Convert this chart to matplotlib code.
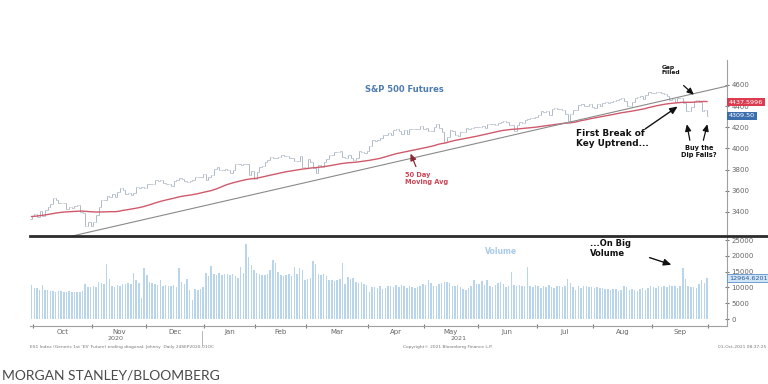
import numpy as np
import pandas as pd
import matplotlib
matplotlib.use("Agg")
import matplotlib.pyplot as plt
from matplotlib.lines import Line2D
import matplotlib.transforms as mtransforms

# ---------------- data ----------------
# closes before the visible window (used for the 50-day moving average)
prior_closes = [3215, 3225, 3251, 3257, 3276, 3236, 3216, 3239, 3218, 3258, 3246, 3271,
                3295, 3306, 3328, 3349, 3351, 3360, 3333, 3380, 3373, 3373, 3382, 3389,
                3375, 3385, 3397, 3431, 3444, 3479, 3485, 3508, 3500,
                3527, 3581, 3455, 3427, 3332, 3399, 3339, 3341, 3384, 3401, 3385, 3357,
                3319, 3281, 3315, 3237, 3247, 3298, 3351, 3335]

# visible closes: 30-Sep-2020 .. 30-Sep-2021 (trading days)
closes = ([3363]
          + [3380, 3348, 3408, 3361, 3419, 3446, 3477, 3534, 3511, 3489, 3483, 3483, 3427, 3443,
             3436, 3453, 3465, 3401, 3391, 3271, 3310, 3270]
          + [3310, 3370, 3443, 3510, 3509, 3550, 3545, 3572, 3537, 3585, 3627, 3610, 3568, 3582,
             3558, 3578, 3635, 3629, 3638, 3622]
          + [3662, 3669, 3667, 3699, 3692, 3702, 3673, 3668, 3663, 3647, 3695, 3702, 3722, 3709,
             3695, 3687, 3690, 3703, 3735, 3727, 3732, 3756]
          + [3701, 3726, 3748, 3804, 3825, 3799, 3801, 3810, 3795, 3768, 3798, 3851, 3853, 3841,
             3855, 3849, 3751, 3788, 3714]
          + [3774, 3826, 3830, 3872, 3887, 3915, 3911, 3910, 3916, 3934, 3933, 3931, 3913, 3906,
             3877, 3881, 3925, 3829, 3811]
          + [3901, 3870, 3820, 3768, 3842, 3821, 3875, 3899, 3939, 3943, 3969, 3962, 3974, 3915,
             3913, 3940, 3910, 3889, 3910, 3975, 3971, 3959, 3973]
          + [4020, 4078, 4074, 4080, 4097, 4129, 4128, 4142, 4125, 4171, 4185, 4163, 4135, 4173,
             4135, 4180, 4187, 4187, 4184, 4211, 4181]
          + [4192, 4165, 4168, 4202, 4233, 4189, 4153, 4063, 4113, 4174, 4163, 4128, 4116, 4160,
             4156, 4198, 4188, 4196, 4201, 4204]
          + [4202, 4208, 4192, 4230, 4227, 4227, 4220, 4239, 4247, 4255, 4247, 4224, 4222, 4166,
             4224, 4246, 4242, 4266, 4281, 4291, 4292, 4298]
          + [4320, 4352, 4344, 4358, 4320, 4370, 4385, 4369, 4375, 4360, 4327, 4259, 4323, 4359,
             4368, 4412, 4422, 4402, 4401, 4419, 4395]
          + [4387, 4423, 4402, 4429, 4437, 4432, 4436, 4447, 4460, 4468, 4480, 4448, 4400, 4406,
             4442, 4480, 4486, 4496, 4470, 4509, 4529, 4523]
          + [4524, 4537, 4535, 4520, 4514, 4493, 4459, 4469, 4443, 4481, 4474, 4433, 4358, 4354,
             4396, 4449, 4455, 4443, 4353, 4360, 4309.5])

volumes = ([10700]
           + [9700, 9700, 9100, 10700, 9100, 9300, 9000, 8800, 8700, 8900, 8800, 8600, 8700, 8800,
              8600, 8700, 8500, 8400, 9000, 11200, 10200, 10000]
           + [10600, 10200, 11600, 11300, 11000, 17500, 12800, 10500, 10200, 10800, 10600, 11200,
              11000, 11300, 11000, 14400, 12200, 11500, 6500, 16000]
           + [13900, 11700, 11400, 11200, 10700, 12300, 10500, 10800, 10400, 10300, 10700, 10200,
              16000, 11800, 11200, 12800, 9100, 6000, 9600, 9300, 9500, 10200]
           + [14400, 13600, 16800, 14200, 13900, 14600, 13800, 14300, 14100, 13900, 14200, 13600,
              13100, 16400, 14500, 23800, 19600, 17200, 15500]
           + [14600, 14100, 13800, 13900, 14200, 15600, 18600, 17800, 15000, 13900, 13500, 13900,
              14300, 13600, 16300, 14100, 16000, 15600, 12300]
           + [12600, 13000, 18200, 17500, 14300, 14000, 14100, 13500, 12300, 12200, 12000, 12200,
              12600, 17800, 11000, 13200, 12800, 13000, 11800, 11400, 11600, 11200, 10900]
           + [8500, 10200, 10000, 9800, 10300, 9600, 9900, 10300, 10500, 10200, 10700, 10000,
              10900, 10400, 9900, 10300, 10100, 9700, 10200, 10600, 11000]
           + [10800, 12300, 11300, 10600, 10500, 11000, 11500, 11800, 11600, 11300, 10300, 10400,
              10800, 10200, 9500, 9100, 9800, 10500, 12400, 11000]
           + [11200, 12000, 10800, 12400, 10400, 10100, 10900, 11400, 11600, 11200, 10000, 10300,
              14900, 10900, 10500, 10800, 10600, 10400, 16500, 10500, 10100, 10700]
           + [10300, 9900, 10600, 10200, 10900, 10100, 9700, 10300, 10400, 10000, 10500, 12600,
              11500, 10200, 9200, 10300, 9800, 10600, 10400, 10000, 10200]
           + [9900, 10200, 9700, 9800, 9600, 9400, 9300, 9500, 9400, 9000, 9200, 10300, 10100,
              9300, 9500, 9100, 8800, 9400, 9700, 9300, 9900, 10400]
           + [10200, 9700, 10600, 10100, 10400, 10000, 10700, 10600, 10300, 9900, 10500, 16000,
              12800, 10400, 10000, 10000, 9800, 11200, 12300, 11500, 12964.6201])

month_labels = ['Oct', 'Nov', 'Dec', 'Jan', 'Feb', 'Mar', 'Apr', 'May', 'Jun', 'Jul', 'Aug', 'Sep']
month_days = [22, 20, 22, 19, 19, 23, 21, 20, 22, 21, 22, 21]
days_before_first_month = 1

price_ticks = [3400, 3600, 3800, 4000, 4200, 4400, 4600]
volume_ticks = [0, 5000, 10000, 15000, 20000, 25000]

ma_window = 50
ma_last_label = 4437.5996
last_close_label = 4309.50
last_volume_label = 12964.6201

# trend line anchors (index, price)
trend_a = (16, 3178)
trend_b = (259.5, 4590)

assert len(closes) == 253 and len(volumes) == 253

# ---------------- derived ----------------
all_closes = np.array(prior_closes + closes, dtype=float)
ma_full = pd.Series(all_closes).rolling(ma_window).mean().values
n_prior = len(prior_closes)
ma = ma_full[n_prior:]
c = np.array(closes, dtype=float)
o = all_closes[n_prior - 1:-1]
hi = np.maximum(o, c)
lo = np.minimum(o, c)
idx = np.arange(len(c))

bounds = np.cumsum([days_before_first_month] + month_days) - 0.5
centers = (bounds[:-1] + bounds[1:]) / 2

# ---------------- figure ----------------
W, H = 768, 384
fig = plt.figure(figsize=(W / 100, H / 100), dpi=100)
fig.patch.set_facecolor('white')

def fx(px):
    return px / W

def fy(py):
    return 1 - py / H

ax = fig.add_axes([fx(30), fy(236), fx(697), (236 - 60) / H])
axv = fig.add_axes([fx(30), fy(326), fx(697), (326 - 237) / H])

xlim = (-0.6, -0.6 + 697 / 2.68)
for a in (ax, axv):
    a.set_xlim(*xlim)
    a.set_facecolor('none')
    for s in ('top', 'left', 'bottom'):
        a.spines[s].set_visible(False)
    a.spines['right'].set_color('#a0a0a0')
    a.spines['right'].set_linewidth(0.8)
    a.yaxis.tick_right()
    a.tick_params(axis='y', direction='inout', length=2.5, width=0.8, color='#777',
                  labelsize=5, labelcolor='#666', pad=2)

# price panel
ax.set_ylim(3173, 4836)
bar_col = '#a9b5c3'
ax.vlines(idx, lo, hi, color=bar_col, lw=0.65)
ax.hlines(o, idx - 0.45, idx, color=bar_col, lw=0.55)
ax.hlines(c, idx, idx + 0.45, color=bar_col, lw=0.55)
ax.plot(idx, ma, color='#d05a6c', lw=1.0)
ax.axline(trend_a, trend_b, color='#8a8a8a', lw=0.8)
ax.set_yticks(price_ticks)
ax.set_yticklabels([str(t) for t in price_ticks])
ax.set_xticks([])

# volume panel
axv.set_ylim(-2215, 25950)
axv.bar(idx, volumes, width=0.55, color='#b8d5ec', edgecolor='none')
axv.set_yticks(volume_ticks)
axv.set_yticklabels([str(t) for t in volume_ticks])
axv.spines['bottom'].set_visible(True)
axv.spines['bottom'].set_color('#a0a0a0')
axv.spines['bottom'].set_linewidth(0.8)
axv.set_xticks(centers)
axv.set_xticklabels(month_labels)
axv.set_xticks(bounds, minor=True)
axv.tick_params(axis='x', which='major', length=0, labelsize=5, labelcolor='#666', pad=2.5)
axv.tick_params(axis='x', which='minor', direction='inout', length=3, width=0.8, color='#777')

# divider line
fig.add_artist(Line2D([fx(30), 1.0], [fy(236), fy(236)], color='#2b2b2b', lw=2.0))

# right side value boxes
tr = mtransforms.blended_transform_factory(ax.transAxes, ax.transData)
ax.text(1.003, ma_last_label, f'{ma_last_label:.4f}', transform=tr, fontsize=4.6, color='white',
        va='center', ha='left',
        bbox=dict(boxstyle='square,pad=0.25', fc='#dc3a4e', ec='none'))
ax.text(1.003, last_close_label, f'{last_close_label:.2f}', transform=tr, fontsize=4.6,
        color='white', va='center', ha='left',
        bbox=dict(boxstyle='square,pad=0.25', fc='#3c6eae', ec='none'))
trv = mtransforms.blended_transform_factory(axv.transAxes, axv.transData)
axv.text(1.003, last_volume_label, f'{last_volume_label:.4f}', transform=trv, fontsize=4.6,
         color='#2a5a9a', va='center', ha='left',
         bbox=dict(boxstyle='square,pad=0.25', fc='#d2e5f6', ec='#5b8ecb', lw=0.6))

# annotations
ax.text(139, 4553, 'S&P 500 Futures', fontsize=6, fontweight='bold', color='#4d7cb0',
        ha='center', va='center')

ax.text(139.3, 3775, '50 Day\nMoving Avg', fontsize=4.8, fontweight='bold', color='#cc4455',
        ha='left', va='top', linespacing=1.1)
ax.annotate('', xy=(141, ma[141]), xytext=(143.8, 3805),
            arrowprops=dict(arrowstyle='-|>,head_length=0.4,head_width=0.18', color='#8b2a35',
                            lw=0.9))

ax.text(203, 4180, 'First Break of\nKey Uptrend...', fontsize=6.4, fontweight='bold',
        color='#111', ha='left', va='top', linespacing=1.15)
ax.annotate('', xy=(241.9, 4411), xytext=(228.1, 4170),
            arrowprops=dict(arrowstyle='-|>,head_length=0.45,head_width=0.2', color='#111',
                            lw=1.0))

ax.text(235.2, 4790, 'Gap\nFilled', fontsize=4.3, fontweight='bold', color='#111',
        ha='left', va='top', linespacing=1.1)
ax.annotate('', xy=(247.9, 4490), xytext=(242.5, 4612),
            arrowprops=dict(arrowstyle='-|>,head_length=0.4,head_width=0.18', color='#111',
                            lw=0.9))

ax.text(249, 4030, 'Buy the\nDip Fails?', fontsize=4.8, fontweight='bold', color='#111',
        ha='center', va='top', linespacing=1.15)
ax.annotate('', xy=(244.3, 4255), xytext=(245.8, 4052),
            arrowprops=dict(arrowstyle='-|>,head_length=0.4,head_width=0.18', color='#111',
                            lw=0.9))
ax.annotate('', xy=(252.4, 4255), xytext=(250.4, 4052),
            arrowprops=dict(arrowstyle='-|>,head_length=0.4,head_width=0.18', color='#111',
                            lw=0.9))

axv.text(175, 21500, 'Volume', fontsize=5.5, fontweight='bold', color='#a9cbe6',
         ha='center', va='center')
axv.text(208.5, 25300, '...On Big\nVolume', fontsize=6, fontweight='bold', color='#111',
         ha='left', va='top', linespacing=1.1)
axv.annotate('', xy=(239.7, 16900), xytext=(229.6, 19700),
             arrowprops=dict(arrowstyle='-|>,head_length=0.45,head_width=0.2', color='#111',
                             lw=1.0))

# footer texts
fig.text(fx(116), fy(339), '2020', fontsize=4.6, color='#666', ha='center', va='center')
fig.text(fx(459), fy(339), '2021', fontsize=4.6, color='#666', ha='center', va='center')
fig.add_artist(Line2D([fx(202), fx(202)], [fy(331), fy(345)], color='#aaa', lw=0.6))
fig.text(fx(30), fy(347), "ES1 Index (Generic 1st 'ES' Future) ending diagonal: Johnny  Daily 24SEP2020-01OC",
         fontsize=3.2, color='#777', ha='left', va='center')
fig.text(fx(448), fy(347), 'Copyright\u00a9 2021 Bloomberg Finance L.P.', fontsize=3.2,
         color='#777', ha='center', va='center')
fig.text(fx(766), fy(347), '01-Oct-2021 08:37:25', fontsize=3.2, color='#777',
         ha='right', va='center')
fig.text(fx(2), fy(376), 'MORGAN STANLEY/BLOOMBERG', fontsize=10, color='#4a4a4a',
         ha='left', va='center', family='Lato')

fig.savefig('out.png', dpi=100, facecolor='white')
